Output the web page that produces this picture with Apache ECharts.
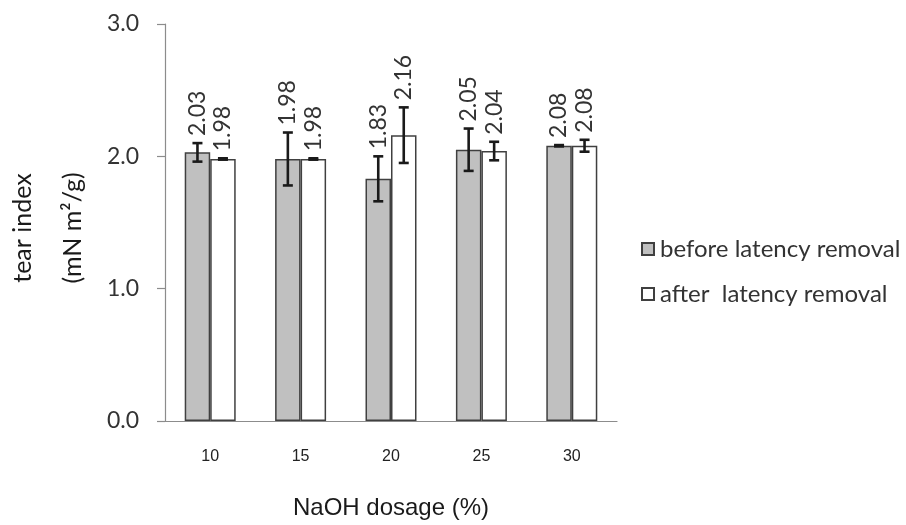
<!DOCTYPE html>
<html>
<head>
<meta charset="utf-8">
<script src="https://cdn.jsdelivr.net/npm/echarts@6/dist/echarts.min.js"></script>
<style>
  html, body { margin: 0; padding: 0; background: #ffffff; }
  #chart { width: 906px; height: 525px; }
</style>
</head>
<body>
<div id="chart"></div>
<script>
// NaOH dosage (%) on the category axis
const categories = ['10', '15', '20', '25', '30'];
// Tear index (mN m²/g), mean values
const beforeValues = [2.03, 1.98, 1.83, 2.05, 2.08];
const afterValues = [1.98, 1.98, 2.16, 2.04, 2.08];
// Half-length of each error bar
const beforeErrors = [0.07, 0.20, 0.17, 0.16, 0.005];
const afterErrors = [0.005, 0.005, 0.21, 0.07, 0.045];
const seriesNames = ['before latency removal', 'after  latency removal'];

const CATEGORY_GAP = 0.436;
const TEXT_FONT = 'Lato';

// Draws one error bar plus the rotated value label for a bar.
function errorBarRenderer(slot) {
  return function (params, api) {
    const idx = api.value(0);
    const val = api.value(1);
    const err = api.value(2);
    const band = api.size([1, 0])[0];
    const bw = band * (1 - CATEGORY_GAP) / 2;
    const cx = api.coord([idx, val])[0] + (slot === 0 ? -bw / 2 : bw / 2);
    const yTop = api.coord([idx, val + err])[1];
    const yBot = api.coord([idx, val - err])[1];
    const cap = 5;
    const stroke = { stroke: '#1a1a1a', lineWidth: 2.6 };
    return {
      type: 'group',
      children: [
        { type: 'line', shape: { x1: cx, y1: yTop, x2: cx, y2: yBot }, style: stroke },
        { type: 'line', shape: { x1: cx - cap, y1: yTop, x2: cx + cap, y2: yTop }, style: stroke },
        { type: 'line', shape: { x1: cx - cap, y1: yBot, x2: cx + cap, y2: yBot }, style: stroke },
        {
          type: 'text',
          x: cx, y: yTop - 7,
          rotation: Math.PI / 2,
          style: {
            text: val.toFixed(2),
            font: '23px ' + TEXT_FONT,
            fill: '#333333',
            align: 'left',
            verticalAlign: 'middle'
          }
        }
      ]
    };
  };
}

const chart = echarts.init(document.getElementById('chart'));

chart.setOption({
  animation: false,
  backgroundColor: '#ffffff',
  grid: { left: 165, right: 289, top: 24, bottom: 95 },
  legend: {
    orient: 'vertical',
    left: 641,
    top: 237,
    padding: 0,
    itemWidth: 12,
    itemHeight: 12,
    itemGap: 21,
    icon: 'rect',
    data: seriesNames,
    textStyle: { fontFamily: TEXT_FONT, fontSize: 24, color: '#333333', padding: [0, 0, 0, 1] }
  },
  xAxis: {
    type: 'category',
    data: categories,
    name: 'NaOH dosage (%)',
    nameLocation: 'middle',
    nameGap: 75,
    nameTextStyle: { fontFamily: 'Liberation Sans', fontSize: 24, color: '#1a1a1a' },
    axisLine: { lineStyle: { color: '#8c8c8c', width: 1.2 } },
    axisTick: { length: 7, lineStyle: { color: '#8c8c8c', width: 1.2 } },
    axisLabel: { margin: 28, fontFamily: 'Liberation Sans', fontSize: 16, color: '#222222' }
  },
  yAxis: {
    type: 'value',
    min: 0,
    max: 3,
    interval: 1,
    splitLine: { show: false },
    axisLine: { show: true, lineStyle: { color: '#8c8c8c', width: 1.2 } },
    axisTick: { show: true, length: 8, lineStyle: { color: '#8c8c8c', width: 1.2 } },
    axisLabel: {
      margin: 26,
      fontFamily: TEXT_FONT,
      fontSize: 23,
      color: '#333333',
      formatter: function (v) { return v.toFixed(1); }
    }
  },
  graphic: [
    {
      type: 'text', x: 23, y: 228, rotation: Math.PI / 2,
      style: { text: 'tear index', font: '25px ' + TEXT_FONT, fill: '#1a1a1a', align: 'center', verticalAlign: 'middle' }
    },
    {
      type: 'text', x: 73, y: 228, rotation: Math.PI / 2,
      style: { text: '(mN m²/g)', font: '25px ' + TEXT_FONT, fill: '#1a1a1a', align: 'center', verticalAlign: 'middle' }
    }
  ],
  series: [
    {
      name: seriesNames[0],
      type: 'bar',
      data: beforeValues,
      barGap: '0%',
      barCategoryGap: (CATEGORY_GAP * 100) + '%',
      itemStyle: { color: '#c0c0c0', borderColor: '#404040', borderWidth: 1.5 }
    },
    {
      name: seriesNames[1],
      type: 'bar',
      data: afterValues,
      barGap: '0%',
      barCategoryGap: (CATEGORY_GAP * 100) + '%',
      itemStyle: { color: '#ffffff', borderColor: '#404040', borderWidth: 1.5 }
    },
    {
      type: 'custom',
      z: 5,
      renderItem: errorBarRenderer(0),
      data: categories.map(function (c, i) { return [i, beforeValues[i], beforeErrors[i]]; })
    },
    {
      type: 'custom',
      z: 5,
      renderItem: errorBarRenderer(1),
      data: categories.map(function (c, i) { return [i, afterValues[i], afterErrors[i]]; })
    }
  ]
});
</script>
</body>
</html>
